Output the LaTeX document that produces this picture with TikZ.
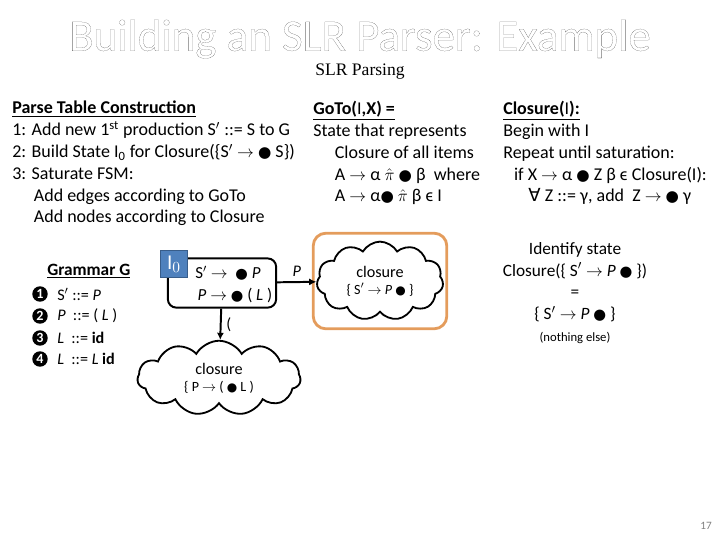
\documentclass[tikz,border=0pt]{standalone}
\usepackage{fontspec}
\setmainfont{Carlito}
\newfontfamily\seriff{Liberation Serif}
\newfontfamily\symf{DejaVu Sans}
\definecolor{tagblue}{RGB}{79, 129, 189}
\definecolor{tagedge}{RGB}{56, 93, 138}
\definecolor{stateorange}{RGB}{228, 156, 92}
\usetikzlibrary{shapes.symbols, arrows.meta, positioning}
\newcommand{\arr}{$\rightarrow$}
\newcommand{\dt}{{\symf\scalebox{0.85}{●}}}
\newcommand{\outl}[1]{\special{pdf:literal direct 1 Tr 0 w}#1\special{pdf:literal direct 0 Tr}}

\begin{document}
\begin{tikzpicture}[x=0.025cm, y=-0.025cm,
  txt/.style={font=\fontsize{12.8}{15.5}\selectfont, align=left, inner sep=0pt, anchor=north west},
  statebox/.style={draw, line width=1.4pt, rounded corners=6pt, minimum width=77pt, minimum height=35pt},
  cloudbox/.style={cloud, cloud puffs=11, cloud puff arc=120, cloud ignores aspect, draw, line width=1.3pt, align=center, inner sep=-3pt},
  edge/.style={-{Latex[length=5pt,width=5pt]}, line width=1.4pt},
  num/.style={circle, fill=black, text=white, inner sep=0pt, minimum size=11pt, font=\fontsize{10}{10}\selectfont\bfseries}]
\useasboundingbox (0,0) rectangle (720,540);
% title
\node[font=\fontsize{32}{32}\selectfont] (title) at (360,39) {\outl{Building an SLR Parser: Example}};
\node[font=\seriff\fontsize{12.5}{12.5}\selectfont] (sub) at (360,72) {SLR Parsing};
% text blocks
\node[txt] (parse) at (12,101) {\underline{\textbf{Parse Table Construction}}\\
  1: Add new 1\textsuperscript{st} production S$'$ ::= S to G\\
  2: Build State I\textsubscript{0} for Closure(\{S$'$ \arr\ \dt\ S\})\\
  3: Saturate FSM:\\
  \hspace*{1.2em}Add edges according to GoTo\\
  \hspace*{1.2em}Add nodes according to Closure};
\node[txt] (goto) at (313,101) {\underline{\textbf{GoTo($\mathrm{I}$,X) =}}\\
  State that represents\\
  \hspace*{1.2em}Closure of all items\\
  \hspace*{1.2em}A \arr\ α $\hat{\pi}$ \dt\ β\ \ where\\
  \hspace*{1.2em}A \arr\ α\dt\ $\hat{\pi}$ β ϵ $\mathrm{I}$};
\node[txt] (clos) at (503,101) {\underline{\textbf{Closure($\mathrm{I}$):}}\\
  Begin with $\mathrm{I}$\\
  Repeat until saturation:\\
  \hspace*{0.6em}if X \arr\ α \dt\ Z β ϵ Closure($\mathrm{I}$):\\
  \hspace*{1.4em}{\symf ∀} Z ::= γ, add\ \ Z \arr\ \dt\ γ};
% grammar
\node[txt, font=\fontsize{12.3}{15.4}\selectfont\bfseries] (gram) at (47,264) {\underline{Grammar G}};
\foreach \k/\yy in {1/294, 2/316, 3/338, 4/359}
  \node[num] (n\k) at (40,\yy) {\k};
\node[anchor=west, inner sep=0pt, font=\fontsize{11.5}{11.5}\selectfont] (r1) at (57,294) {S$'$ ::= \textit{P}};
\node[anchor=west, inner sep=0pt, font=\fontsize{11.5}{11.5}\selectfont] (r2) at (57,316) {\textit{P}\ \ ::= ( \textit{L} )};
\node[anchor=west, inner sep=0pt, font=\fontsize{11.5}{11.5}\selectfont] (r3) at (57,338) {\textit{L}\ \ ::= \textbf{id}};
\node[anchor=west, inner sep=0pt, font=\fontsize{11.5}{11.5}\selectfont] (r4) at (57,359) {\textit{L}\ \ ::= \textit{L} \textbf{id}};
% states
\node[statebox] (i0) at (222,283) {};
\node[inner sep=0pt, font=\fontsize{12}{12}\selectfont] (it1) at (228,273) {S$'$ \arr\ \ \dt\ \textit{P}};
\node[inner sep=0pt, font=\fontsize{12}{12}\selectfont] (it2) at (235,295) {\textit{P} \arr\ \dt\ ( \textit{L} )};
\node[fill=tagblue, draw=tagedge, line width=0.8pt, minimum size=19pt, inner sep=0pt, text=white, font=\fontsize{15}{15}\selectfont] (i0tag) at (174,264) {$\mathrm{I}_0$};
\node[draw=stateorange, line width=2pt, rounded corners=9pt, minimum width=95pt, minimum height=68pt] (obox) at (380,281) {};
\node[cloudbox, minimum width=90pt, minimum height=56pt] (cA) at (380,281) {{\fontsize{11.5}{13}\selectfont closure}\\{\fontsize{10}{13}\selectfont\{ S$'$ \arr\ \textit{P} \dt\ \}}};
\node[cloudbox, minimum width=116pt, minimum height=53pt] (cB) at (219,378) {{\fontsize{11.5}{13}\selectfont closure}\\{\fontsize{10}{13}\selectfont\{ P \arr\ ( \dt\ L )}};
\draw[edge] (i0) -- node[above, font=\fontsize{11.5}{11.5}\selectfont\itshape] {P} (cA);
\draw[edge] (i0) -- node[right, font=\fontsize{11.5}{11.5}\selectfont] {(} (cB);
% right side
\node[align=center, inner sep=0pt, anchor=north, font=\fontsize{12.3}{15.5}\selectfont] (ident) at (575,242) {Identify state\\Closure(\{ S$'$ \arr\ \textit{P} \dt\ \})\\=\\\{ S$'$ \arr\ \textit{P} \dt\ \}\\{\fontsize{9}{10}\selectfont(nothing else)}};
\node[text=gray, font=\fontsize{8}{8}\selectfont] (pg) at (706,526) {17};
\end{tikzpicture}
\end{document}
